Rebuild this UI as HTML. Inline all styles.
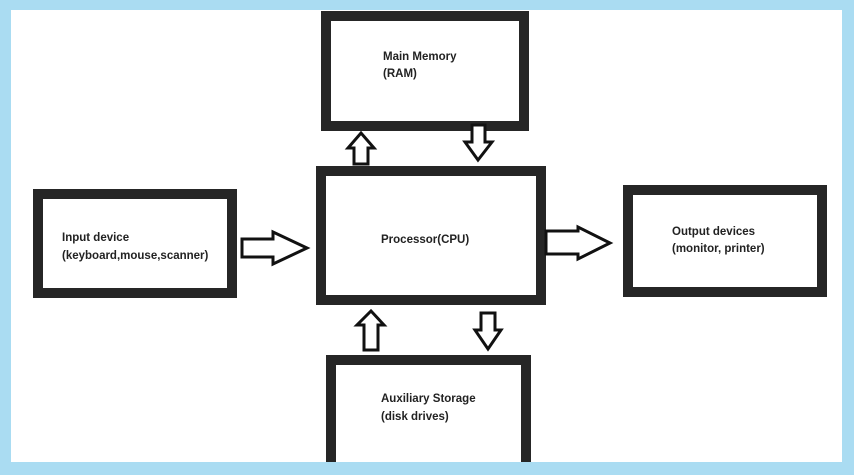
<!DOCTYPE html>
<html><head><style>
html,body{margin:0;padding:0;background:#aadcf2;}
svg{display:block}
text{font-family:"Liberation Sans",sans-serif;font-weight:bold;font-size:11.5px;fill:#222}
</style></head><body>
<svg width="854" height="475" viewBox="0 0 854 475" xmlns="http://www.w3.org/2000/svg">
<rect x="0" y="0" width="854" height="475" fill="#aadcf2"/>
<rect x="11" y="10" width="831" height="452" fill="#fff"/>
<g fill="#fff" stroke="#262626" stroke-width="10">
<rect x="326" y="16" width="198" height="110"/>
<rect x="321" y="171" width="220" height="129"/>
<rect x="38" y="194" width="194" height="99"/>
<rect x="628" y="190" width="194" height="102"/>
<rect x="331" y="360" width="195" height="110"/>
</g>
<rect x="0" y="462" width="854" height="13" fill="#aadcf2"/>
<g fill="#fff" stroke="#111" stroke-width="3" stroke-linejoin="miter">
<!-- RAM up -->
<polygon points="361,133 374,148 368,148 368,164 354,164 354,148 348,148"/>
<!-- RAM down -->
<polygon points="472,125 485,125 485,142 492,142 478,160 465,142 472,142"/>
<!-- input right -->
<polygon points="242,239 273,239 273,232 307,248 273,264 273,257 242,257"/>
<!-- output right -->
<polygon points="546,231 578,231 578,227 610,243 578,259 578,254 546,254"/>
<!-- aux up -->
<polygon points="371,311 384,325 378,325 378,350 364,350 364,325 357,325"/>
<!-- aux down -->
<polygon points="481,313 495,313 495,330 501,330 488,349 475,330 481,330"/>
</g>
<text x="383" y="60">Main Memory</text>
<text x="383" y="77">(RAM)</text>
<text x="381" y="243">Processor(CPU)</text>
<text x="62" y="241">Input device</text>
<text x="62" y="259">(keyboard,mouse,scanner)</text>
<text x="672" y="235">Output devices</text>
<text x="672" y="252">(monitor, printer)</text>
<text x="381" y="402">Auxiliary Storage</text>
<text x="381" y="420">(disk drives)</text>
</svg>
</body></html>
